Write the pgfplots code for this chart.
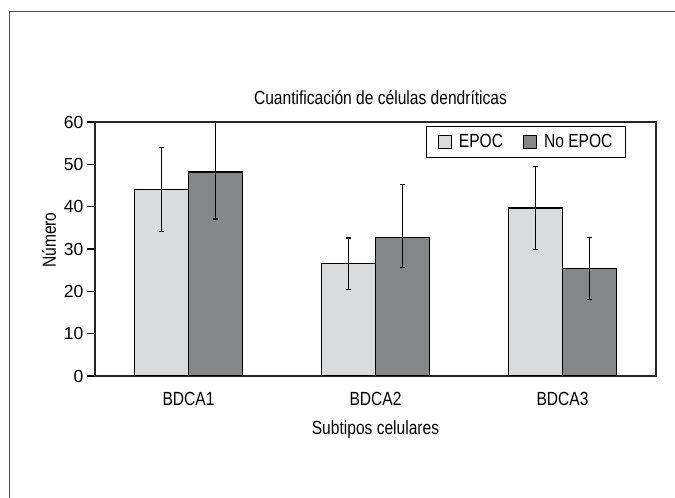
\documentclass[border=0pt]{standalone}
\usepackage{fontspec}
\setmainfont{Liberation Sans}[FakeStretch=0.82]
\newfontfamily\tickfont{Liberation Sans}
\usepackage{pgfplots}
\pgfplotsset{compat=1.18}
\usepackage{pgfplotstable}

% mean, error up, error down
\pgfplotstableread{
x y ep em
0 44.0 9.9 9.9
1 26.5 6.1 6.1
2 39.7 9.8 9.8
}\epoc
\pgfplotstableread{
x y ep em
0 48.2 12.5 11.1
1 32.7 12.6 7.1
2 25.4 7.3 7.3
}\noepoc

\definecolor{lightbar}{RGB}{218,219,221}
\definecolor{darkbar}{RGB}{134,135,137}
\newcommand{\txt}{\fontsize{19}{22}\selectfont}

\begin{document}
\begin{tikzpicture}[x=1pt,y=1pt,font=\txt]
\useasboundingbox (0,0) rectangle (675,498);
% outer frame of the figure
\draw[line width=1.2pt, black!70] (9.5,0) -- (9.5,486.3) -- (675,486.3);
\begin{axis}[
  at={(95pt,122pt)}, anchor=south west,
  scale only axis, width=561pt, height=254pt,
  ybar=0pt, bar width=0.29,
  xmin=-0.5, xmax=2.5, ymin=0, ymax=60,
  xtick=data, xticklabels={BDCA1,BDCA2,BDCA3},
  x tick style={draw=none},
  ytick={0,10,...,60},
  ytick pos=left, tick align=outside,
  major tick length=8pt,
  y tick style={line width=1.1pt, black},
  axis line style={line width=1.3pt, black!85},
  xticklabel style={font=\txt, yshift=-5pt},
  yticklabel style={font=\tickfont\fontsize{17.5}{20}\selectfont, inner xsep=3.5pt},
  /pgf/number format/assume math mode=true,
  title={Cuantificación de células dendríticas},
  title style={font=\txt, at={(0.5,1)}, anchor=base, yshift=12pt, xshift=5pt},
  xlabel={Subtipos celulares},
  xlabel style={font=\txt, at={(axis description cs:0.5,-0.21)}, anchor=center},
  ylabel={Número},
  ylabel style={font=\txt, at={(axis description cs:-0.082,0.535)}, anchor=center, rotate=0},
  legend columns=2,
  legend style={at={(0.9465,0.984)}, anchor=north east, draw=black,
    font=\txt, line width=1pt, inner xsep=11pt, inner ysep=6pt,
    nodes={inner sep=2pt},
    /tikz/every odd column/.append style={column sep=5pt},
    /tikz/every even column/.append style={column sep=18pt}},
  legend image code/.code={\draw[#1, line width=1pt] (0pt,-6.5pt) rectangle (13pt,6.5pt);},
  error bars/y dir=both,
  error bars/y explicit,
  error bars/error bar style={line width=1.2pt, black},
  error bars/error mark options={rotate=90, mark size=2.5pt, line width=1.2pt, black},
]
\addplot[fill=lightbar, draw=black, line width=1.3pt]
  table[x=x, y=y, y error plus=ep, y error minus=em] {\epoc};
\addlegendentry{EPOC}
\addplot[fill=darkbar, draw=black, line width=1.3pt]
  table[x=x, y=y, y error plus=ep, y error minus=em] {\noepoc};
\addlegendentry{No EPOC}
\end{axis}
\end{tikzpicture}
\end{document}
